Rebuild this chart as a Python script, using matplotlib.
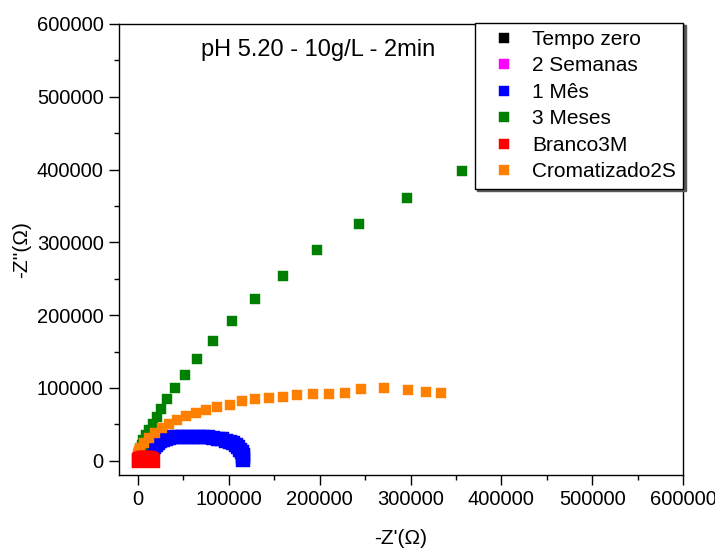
import matplotlib
matplotlib.use("Agg")
import matplotlib.pyplot as plt
from matplotlib.ticker import MultipleLocator

plt.rcParams['font.family'] = ['Liberation Sans', 'DejaVu Sans']

# impedance data (Z' and -Z'' in ohm)
tempo_zero_x = [500, 2000, 4000, 6000, 8000, 10000]
tempo_zero_y = [500, 1500, 2200, 2200, 1500, 500]

semanas2_x = [500, 2500, 5000, 7500, 10000, 12000]
semanas2_y = [500, 1800, 2600, 2600, 1800, 600]

mes1_x = [14000, 15500, 17500, 19500, 21500, 24000, 27000, 30500, 34500, 39000,
          44000, 49500, 55000, 60500, 66000, 71500, 77000, 82500, 87500, 92500,
          97000, 101000, 104500, 107500, 110000, 112500, 114500, 115500, 116000, 116000]
mes1_y = [14000, 17000, 19500, 22000, 24500, 27000, 29000, 30500, 31500, 32300,
          32800, 33000, 33200, 33200, 33000, 32700, 32200, 31500, 30600, 29400,
          27800, 26000, 23800, 21300, 18500, 15300, 12000, 8500, 5000, 1500]

meses3_x = [400, 800, 1500, 2500, 4000, 6000, 8500, 11800, 16200, 20600, 25400,
            32300, 41100, 51800, 65000, 82400, 102900, 128700, 159600, 197400,
            243000, 295600, 357000]
meses3_y = [4000, 7000, 11000, 16000, 22000, 28000, 35000, 42600, 50400, 60000, 70500,
            84800, 99900, 118500, 139700, 164800, 191900, 221600, 254000, 289000,
            325000, 361000, 398000]

branco_x = [500, 1500, 2500, 3500, 4500, 5500, 6500, 7500, 8500, 9500,
            10500, 11500, 12500, 13500, 14500, 15500, 16500]
branco_y = [300, 1200, 2000, 2600, 3000, 3300, 3400, 3500, 3500, 3400,
            3200, 3000, 2700, 2300, 1800, 1200, 400]

crom_x = [0, 100, 300, 1000, 2200, 6900, 12500, 18700, 26100, 34500, 43000, 52900,
          63600, 74700, 87100, 101100, 115000, 129000, 144200, 159100, 175400,
          192200, 210700, 227900, 245600, 270500, 296700, 317600, 333400]
crom_y = [2000, 5000, 10000, 14000, 17400, 24300, 31200, 38000, 44900, 50800, 56300, 61800,
          66300, 70100, 74200, 77300, 81500, 84200, 86100, 87900, 89700,
          92400, 92000, 93400, 99300, 99900, 97100, 94800, 93400]

series = [
    ("Tempo zero", tempo_zero_x, tempo_zero_y, "black", 7.2, 2),
    ("2 Semanas", semanas2_x, semanas2_y, "magenta", 7.2, 2),
    ("1 Mês", mes1_x, mes1_y, "blue", 10, 3),
    ("3 Meses", meses3_x, meses3_y, "green", 7.2, 3),
    ("Branco3M", branco_x, branco_y, "red", 10, 5),
    ("Cromatizado2S", crom_x, crom_y, "#ff7f00", 7.2, 4),
]

fig = plt.figure(figsize=(7.15, 5.49), dpi=100)
ax = fig.add_axes([0.1664, 0.1348, 0.7888, 0.8215])

for name, xs, ys, col, ms, z in series:
    ax.plot(xs, ys, 's', color=col, ms=ms, mec=col, mew=0.3, label=name, zorder=z)

ax.set_xlim(-21000, 600000)
ax.set_ylim(-19500, 600000)
ax.xaxis.set_major_locator(MultipleLocator(100000))
ax.xaxis.set_minor_locator(MultipleLocator(50000))
ax.yaxis.set_major_locator(MultipleLocator(100000))
ax.yaxis.set_minor_locator(MultipleLocator(50000))
ax.tick_params(which='both', direction='out', top=False, right=False,
               labelsize=14.5, width=1, color='black')
ax.tick_params(which='major', length=7, pad=4)
ax.tick_params(which='minor', length=3.5)
for sp in ax.spines.values():
    sp.set_linewidth(1)
    sp.set_color('black')

ax.set_xlabel("-Z'(Ω)", fontsize=15, labelpad=14)
ax.set_ylabel("-Z''(Ω)", fontsize=15, labelpad=4)

ax.text(0.353, 0.942, "pH 5.20 - 10g/L - 2min", transform=ax.transAxes,
        ha='center', va='center', fontsize=17)

leg = ax.legend(loc='upper right', bbox_to_anchor=(1.0, 1.003), borderaxespad=0,
                fontsize=15, numpoints=1, handlelength=2.1, handletextpad=0.3,
                borderpad=0.35, labelspacing=0.36, fancybox=False,
                shadow={'color': '0.35', 'alpha': 1}, framealpha=1)
leg.get_frame().set_edgecolor('black')
leg.get_frame().set_linewidth(1)
for h in leg.legend_handles:
    h.set_markersize(7.2)

fig.savefig("out.png", dpi=100)
